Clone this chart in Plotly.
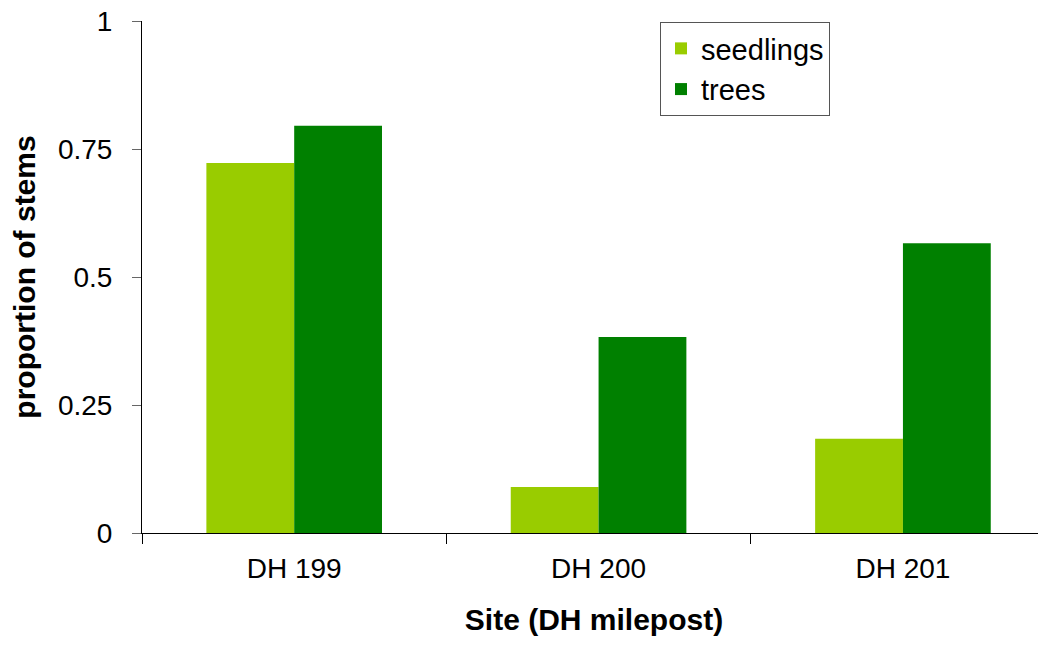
import plotly.graph_objects as go

sites = ["DH 199", "DH 200", "DH 201"]
seedlings = [0.723, 0.090, 0.184]
trees = [0.796, 0.383, 0.566]
y_ticks = [0, 0.25, 0.5, 0.75, 1]
y_tick_text = ["0", "0.25", "0.5", "0.75", "1"]

fig = go.Figure()
fig.add_trace(go.Bar(x=sites, y=seedlings, name="seedlings", marker_color="#99CC00",
                     marker_line_width=0))
fig.add_trace(go.Bar(x=sites, y=trees, name="trees", marker_color="#008000",
                     marker_line_width=0))

# page body has an 8px margin, compensate
fig.update_layout(
    width=1038, height=639,
    margin=dict(l=134, r=0, t=13, b=114, autoexpand=False),
    plot_bgcolor="white", paper_bgcolor="white",
    barmode="group", bargap=0.423, bargroupgap=0,
    font=dict(family="Arial, Liberation Sans, sans-serif", size=28, color="black"),
    legend=dict(x=0.573, y=0.998, xanchor="left", yanchor="top",
                bordercolor="#555555", borderwidth=1, bgcolor="white",
                font=dict(size=29), tracegroupgap=4),
    xaxis=dict(
        type="category", range=[-0.5, 2.47], tickson="boundaries",
        ticks="outside", ticklen=10, tickcolor="black",
        showline=True, linecolor="black", linewidth=1, automargin=False,
        showgrid=False, tickfont=dict(size=28), ticklabelstandoff=10,
        title=dict(text="<b>Site (DH milepost)</b>", font=dict(size=30), standoff=26),
    ),
    yaxis=dict(
        range=[0, 1.0005], tickvals=y_ticks, ticktext=y_tick_text,
        ticks="outside", ticklen=9, tickcolor="#666666",
        showline=True, linecolor="black", linewidth=1, automargin=False,
        ticklabeloverflow="allow",
        showgrid=False, zeroline=False, tickfont=dict(size=28), ticklabelstandoff=14,
        title=dict(text="<b>proportion of stems</b>", font=dict(size=30), standoff=14),
    ),
)

fig.write_html("out.html")
